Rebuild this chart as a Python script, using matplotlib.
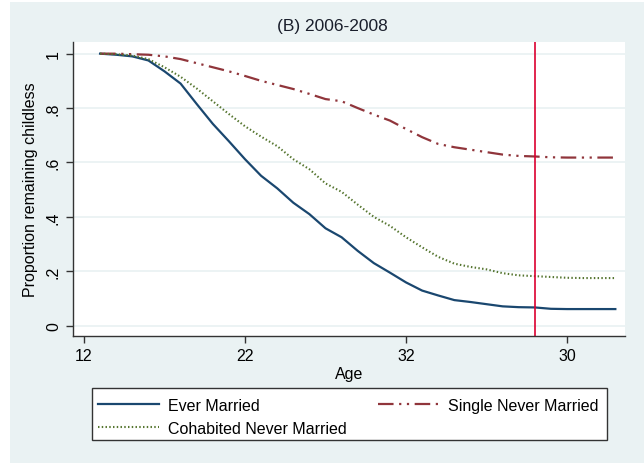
import matplotlib.pyplot as plt
from matplotlib.patches import Rectangle

plt.rcParams['font.family'] = ['Liberation Sans', 'DejaVu Sans']

# data (proportion remaining childless by age)
ages = list(range(13, 46))
ever_married = [1.0, 0.996, 0.99, 0.975, 0.935, 0.89, 0.815, 0.742, 0.678, 0.612,
                0.551, 0.505, 0.452, 0.41, 0.358, 0.325, 0.275, 0.23, 0.195, 0.159,
                0.129, 0.111, 0.094, 0.087, 0.079, 0.071, 0.068, 0.067, 0.062, 0.061,
                0.061, 0.061, 0.061]
single_never = [1.0, 1.0, 0.998, 0.996, 0.99, 0.98, 0.965, 0.95, 0.935, 0.918,
                0.9, 0.885, 0.87, 0.852, 0.833, 0.825, 0.8, 0.776, 0.754, 0.723,
                0.693, 0.668, 0.656, 0.647, 0.638, 0.629, 0.624, 0.622, 0.619, 0.618,
                0.618, 0.618, 0.618]
cohab_never = [1.0, 0.998, 0.993, 0.98, 0.95, 0.915, 0.872, 0.825, 0.778, 0.733,
               0.695, 0.66, 0.612, 0.575, 0.523, 0.492, 0.445, 0.40, 0.367, 0.325,
               0.288, 0.253, 0.228, 0.216, 0.207, 0.193, 0.185, 0.182, 0.179, 0.176,
               0.175, 0.175, 0.175]
ref_age = 40

xticks = [12, 22, 32, 42]
xtick_labels = ['12', '22', '32', '30']
yticks = [0, 0.2, 0.4, 0.6, 0.8, 1.0]
ytick_labels = ['0', '.2', '.4', '.6', '.8', '1']

bg = '#EAF2F3'
navy = '#1A476F'
maroon = '#90353B'
green = '#55752F'

fig = plt.figure(figsize=(6.44, 4.64), dpi=100)
# stata-style grey-blue graph region, small white margin at left/top
fig.patches.append(Rectangle((10 / 644, 0), 1, 1 - 3 / 464, transform=fig.transFigure,
                             facecolor=bg, edgecolor='none', zorder=-10))

ax = fig.add_axes([0.1129, 0.2737, 0.9705 - 0.1129, 0.908 - 0.2737])
ax.set_facecolor('white')

ax.plot(ages, ever_married, color=navy, lw=1.6, label='Ever Married')
ax.plot(ages, single_never, color=maroon, lw=1.6,
        dashes=(7, 2.5, 1, 2.5, 1, 2.5), label='Single Never Married')
ax.plot(ages, cohab_never, color=green, lw=1.5, linestyle=(0, (0.7, 1.1)),
        label='Cohabited Never Married')
ax.axvline(ref_age, color='#DC0030', lw=1.2)

ax.set_xlim(11.3, 45.6)
ax.set_ylim(-0.038, 1.044)
ax.set_xticks(xticks)
ax.set_xticklabels(xtick_labels, fontsize=11.5)
ax.set_yticks(yticks)
ax.set_yticklabels(ytick_labels, fontsize=11.5, rotation=90, va='center')
ax.yaxis.grid(True, color=bg, lw=1.3)
ax.set_axisbelow(True)
ax.tick_params(direction='out', length=5, width=1, color='#333333')

for side in ['top', 'right']:
    ax.spines[side].set_visible(False)
for side in ['left', 'bottom']:
    ax.spines[side].set_color('#333333')
    ax.spines[side].set_linewidth(1)

ax.set_xlabel('Age', fontsize=11.5, labelpad=2)
ax.set_ylabel('Proportion remaining childless', fontsize=11.5, labelpad=6)
fig.text(332 / 644, 1 - 27 / 464, '(B) 2006-2008', fontsize=12.5,
         ha='center', va='center', color='#1a1f2c')

# legend frame drawn separately so the box can be wider than its entries
fig.patches.append(Rectangle((92.3 / 644, 1 - 441 / 464), 514.7 / 644, 51.7 / 464,
                             transform=fig.transFigure, facecolor='white',
                             edgecolor='#333333', lw=1, zorder=1))
handles, labels = ax.get_legend_handles_labels()
order = [0, 2, 1]
leg = fig.legend([handles[i] for i in order], [labels[i] for i in order],
                 loc='upper left', bbox_to_anchor=(98 / 644, 1 - 399 / 464),
                 ncol=2, fontsize=11.5, frameon=False,
                 handlelength=3.8, handletextpad=0.56, labelspacing=0.47,
                 columnspacing=2.0, borderpad=0, borderaxespad=0)
leg.set_zorder(2)

fig.savefig('out.png', dpi=100, facecolor='white')
